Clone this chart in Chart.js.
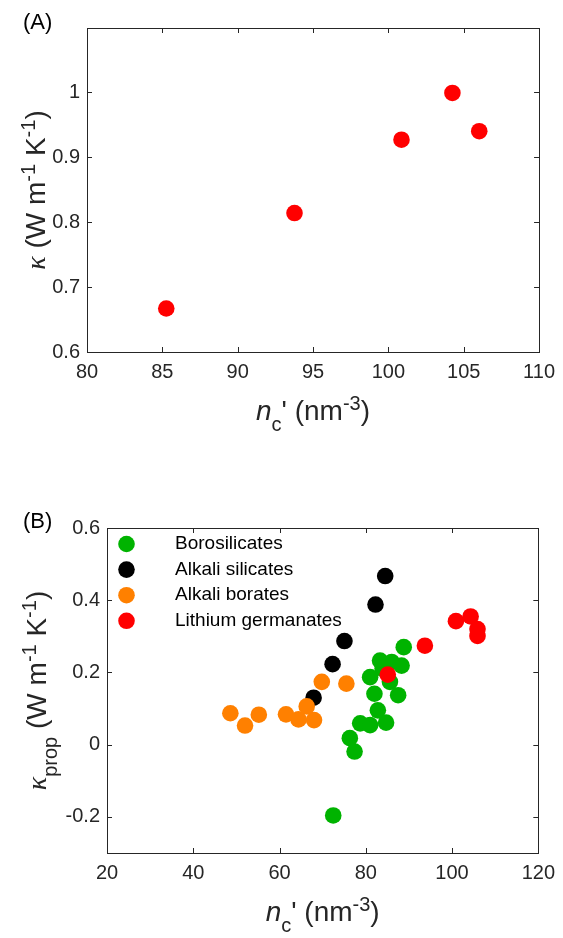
<!DOCTYPE html>
<html>
<head>
<meta charset="utf-8">
<script src="https://cdn.jsdelivr.net/npm/chart.js@4.4.1/dist/chart.umd.min.js"></script>
<style>
html, body { margin: 0; padding: 0; background: #fff; }
body { width: 563px; height: 938px; position: relative; overflow: hidden; }
canvas { position: absolute; left: 0; }
#chartA { top: 0; }
#chartB { top: 469px; }
</style>
</head>
<body>
<canvas id="chartA" width="563" height="469"></canvas>
<canvas id="chartB" width="563" height="469"></canvas>
<script>
// (A) lithium germanates, kappa vs n_c'
const nA = [85.26, 93.77, 100.87, 104.25, 106.03];
const kappaA = [0.667, 0.814, 0.927, 0.999, 0.940];
const xTicksA = [80, 85, 90, 95, 100, 105, 110];
const yTicksA = [0.6, 0.7, 0.8, 0.9, 1];

// (B) kappa_prop vs n_c' for the four glass families
const seriesNames = ['Borosilicates', 'Alkali silicates', 'Alkali borates', 'Lithium germanates'];
const seriesColors = ['#00b300', '#000000', '#ff8000', '#ff0000'];
const nBoro = [88.8, 83.3, 86.0, 88.3, 81.0, 83.9, 85.6, 82.0, 87.5, 82.8, 78.7, 81.0, 84.7, 76.3, 77.4, 72.45];
const kBoro = [0.270, 0.233, 0.229, 0.219, 0.187, 0.210, 0.174, 0.141, 0.137, 0.095, 0.059, 0.054, 0.061, 0.018, -0.019, -0.196];
const nSil = [67.9, 72.3, 75.05, 82.25, 84.5];
const kSil = [0.130, 0.223, 0.287, 0.388, 0.467];
const nBor = [48.6, 52.0, 55.2, 61.5, 64.4, 66.3, 68.0, 69.8, 75.5];
const kBor = [0.087, 0.053, 0.083, 0.084, 0.070, 0.106, 0.068, 0.174, 0.169];
const nGer = [85.1, 93.7, 100.9, 104.3, 105.9, 105.9];
const kGer = [0.194, 0.274, 0.342, 0.355, 0.320, 0.301];
const xTicksB = [20, 40, 60, 80, 100, 120];
const yTicksB = [-0.2, 0, 0.2, 0.4, 0.6];

const FONT = '"Liberation Sans", Arial, Helvetica, sans-serif';
const INK = '#262626';

function pts(xs, ys) {
    return xs.map((x, i) => ({ x: x, y: ys[i] }));
}

// parts: [text, style]  style: '' normal, 'i' italic, 'k' greek italic, 'sub', 'sup'
function partFont(style, size) {
    if (style === 'i') return 'italic ' + size + 'px ' + FONT;
    if (style === 'k') return 'italic ' + size + 'px "Liberation Serif", "DejaVu Serif", serif';
    if (style === 'sub' || style === 'sup') return Math.round(size * 0.7) + 'px ' + FONT;
    return size + 'px ' + FONT;
}

function drawRich(ctx, parts, x, y, size, rot) {
    let total = 0;
    parts.forEach(p => { ctx.font = partFont(p[1], size); total += ctx.measureText(p[0]).width; });
    ctx.save();
    ctx.translate(x, y);
    ctx.rotate(rot);
    ctx.textAlign = 'left';
    ctx.textBaseline = 'alphabetic';
    let cx = -total / 2;
    parts.forEach(p => {
        ctx.font = partFont(p[1], size);
        let dy = 0;
        if (p[1] === 'sub') dy = size * 0.4;
        if (p[1] === 'sup') dy = -size * 0.36;
        ctx.fillText(p[0], cx, dy);
        cx += ctx.measureText(p[0]).width;
    });
    ctx.restore();
}

const matlabAxes = {
    id: 'matlabAxes',
    afterDraw(chart, args, opts) {
        const ctx = chart.ctx;
        const a = chart.chartArea;
        const xs = chart.scales.x, ys = chart.scales.y;
        ctx.save();
        ctx.strokeStyle = INK;
        ctx.lineWidth = 1;
        ctx.beginPath();
        xs.ticks.forEach(t => {
            const p = Math.round(xs.getPixelForValue(t.value)) + 0.5;
            ctx.moveTo(p, a.bottom); ctx.lineTo(p, a.bottom - 5);
            ctx.moveTo(p, a.top); ctx.lineTo(p, a.top + 5);
        });
        ys.ticks.forEach(t => {
            const p = Math.round(ys.getPixelForValue(t.value)) + 0.5;
            ctx.moveTo(a.left, p); ctx.lineTo(a.left + 5, p);
            ctx.moveTo(a.right, p); ctx.lineTo(a.right - 5, p);
        });
        ctx.stroke();
        ctx.strokeRect(Math.round(a.left) + 0.5, Math.round(a.top) + 0.5,
            Math.round(a.right - a.left), Math.round(a.bottom - a.top));

        ctx.fillStyle = INK;
        drawRich(ctx, opts.xTitle, (a.left + a.right) / 2, opts.xTitleY, 28, 0);
        drawRich(ctx, opts.yTitle, opts.yTitleX, (a.top + a.bottom) / 2, 28, -Math.PI / 2);

        ctx.fillStyle = '#000';
        ctx.font = '22px ' + FONT;
        ctx.textAlign = 'left';
        ctx.textBaseline = 'alphabetic';
        ctx.fillText(opts.panel, 23, opts.panelY);

        if (opts.legend) {
            opts.legend.forEach((name, i) => {
                const y = a.top + 16 + i * 25.6;
                ctx.fillStyle = chart.data.datasets[i].backgroundColor;
                ctx.beginPath();
                ctx.arc(a.left + 19.5, y, 8.3, 0, Math.PI * 2);
                ctx.fill();
                ctx.fillStyle = '#000';
                ctx.font = '19px ' + FONT;
                ctx.textBaseline = 'middle';
                ctx.fillText(name, a.left + 68, y);
            });
        }
        ctx.restore();
    }
};

function axisOpts(min, max, ticks, size, isX) {
    return {
        type: 'linear',
        min: min,
        max: max,
        grid: { display: false, drawTicks: false },
        border: { display: false },
        ticks: {
            color: INK,
            font: { family: FONT, size: 20 },
            padding: isX ? 8 : 7,
            autoSkip: false,
            maxRotation: 0,
            callback: v => String(Math.round(v * 100) / 100)
        },
        afterBuildTicks: s => { s.ticks = ticks.map(v => ({ value: v })); },
        afterFit: s => { if (isX) s.height = size; else s.width = size; }
    };
}

function dataset(label, data, color, order) {
    return {
        label: label,
        data: data,
        backgroundColor: color,
        borderWidth: 0,
        pointRadius: 8.3,
        pointHoverRadius: 8.3,
        order: order
    };
}

const kappaTitle = [['κ', 'k'], [' (W m', ''], ['-1', 'sup'], [' K', ''], ['-1', 'sup'], [')', '']];
const kappaPropTitle = [['κ', 'k'], ['prop', 'sub'], [' (W m', ''], ['-1', 'sup'], [' K', ''], ['-1', 'sup'], [')', '']];
const nTitle = [['n', 'i'], ['c', 'sub'], ["' (nm", ''], ['-3', 'sup'], [')', '']];

new Chart(document.getElementById('chartA'), {
    type: 'scatter',
    data: {
        datasets: [dataset('Lithium germanates', pts(nA, kappaA), '#ff0000', 0)]
    },
    options: {
        responsive: false,
        animation: false,
        events: [],
        layout: { padding: { left: 0, top: 28, right: 20, bottom: 0 } },
        scales: {
            x: axisOpts(80, 110, xTicksA, 117, true),
            y: axisOpts(0.6, 1.099, yTicksA, 87, false)
        },
        plugins: {
            legend: { display: false },
            tooltip: { enabled: false },
            matlabAxes: { xTitle: nTitle, xTitleY: 420, yTitle: kappaTitle, yTitleX: 45, panel: '(A)', panelY: 29 }
        }
    },
    plugins: [matlabAxes]
});

new Chart(document.getElementById('chartB'), {
    type: 'scatter',
    data: {
        datasets: [
            dataset(seriesNames[0], pts(nBoro, kBoro), seriesColors[0], 4),
            dataset(seriesNames[1], pts(nSil, kSil), seriesColors[1], 3),
            dataset(seriesNames[2], pts(nBor, kBor), seriesColors[2], 2),
            dataset(seriesNames[3], pts(nGer, kGer), seriesColors[3], 1)
        ]
    },
    options: {
        responsive: false,
        animation: false,
        events: [],
        layout: { padding: { left: 0, top: 59, right: 20, bottom: 0 } },
        scales: {
            x: axisOpts(20, 120, xTicksB, 85, true),
            y: axisOpts(-0.3, 0.6, yTicksB, 107, false)
        },
        plugins: {
            legend: { display: false },
            tooltip: { enabled: false },
            matlabAxes: { xTitle: nTitle, xTitleY: 452, yTitle: kappaPropTitle, yTitleX: 46, panel: '(B)', panelY: 59, legend: seriesNames }
        }
    },
    plugins: [matlabAxes]
});
</script>
</body>
</html>
